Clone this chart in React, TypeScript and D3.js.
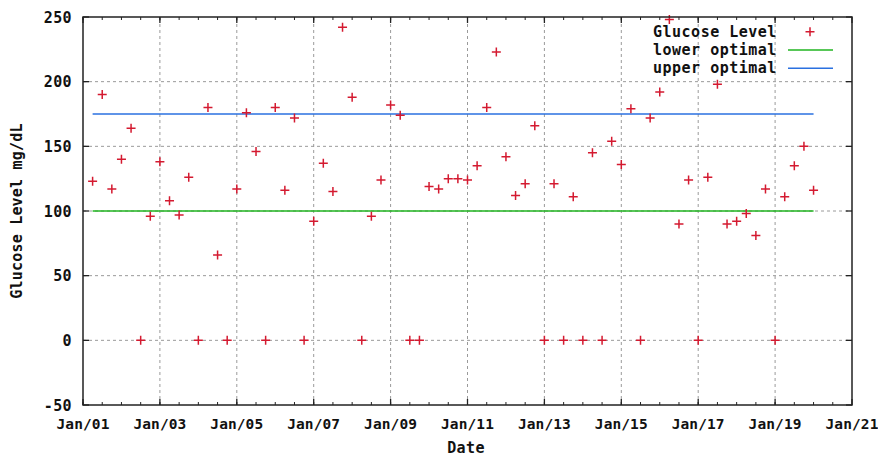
import React from "react";
import * as d3 from "d3";

// readings taken every 6 hours, from Jan/01 06:00 to Jan/20 00:00
const firstReading = new Date(Date.UTC(2011, 0, 1, 6));
const lastReading = new Date(Date.UTC(2011, 0, 20, 0, 1));
const glucoseValues = [
  123, 190, 117, 140, 164, 0, 96, 138, 108, 97, 126, 0, 180, 66, 0, 117, 176, 146, 0, 180,
  116, 172, 0, 92, 137, 115, 242, 188, 0, 96, 124, 182, 174, 0, 0, 119, 117, 125, 125, 124,
  135, 180, 223, 142, 112, 121, 166, 0, 121, 0, 111, 0, 145, 0, 154, 136, 179, 0, 172, 192,
  248, 90, 124, 0, 126, 198, 90, 92, 98, 81, 117, 0, 111, 135, 150, 116,
];
const lowerOptimal = 100;
const upperOptimal = 175;
const yTicks = [-50, 0, 50, 100, 150, 200, 250];
const legendLabels = ["Glucose Level", "lower optimal", "upper optimal"];

const width = 878;
const height = 456;
const margin = { top: 17, right: 26, bottom: 51, left: 83 };
const font = "'DejaVu Sans Mono', monospace";

export default function App() {
  const times = d3.utcHour.every(6)!.range(firstReading, lastReading);
  const data = times.map((t, i) => ({ t, v: glucoseValues[i] }));

  const x = d3
    .scaleUtc()
    .domain([new Date(Date.UTC(2011, 0, 1)), new Date(Date.UTC(2011, 0, 21))])
    .range([margin.left, width - margin.right]);
  const y = d3.scaleLinear().domain([-50, 250]).range([height - margin.bottom, margin.top]);

  const x0 = margin.left, x1 = width - margin.right;
  const y0 = height - margin.bottom, y1 = margin.top;

  const majorX = d3.utcDay.every(2)!.range(x.domain()[0], new Date(Date.UTC(2011, 0, 21, 1)));
  const minorX = d3.utcHour.every(12)!.range(x.domain()[0], x.domain()[1]);
  const fmt = d3.utcFormat("%b/%d");

  const line = d3
    .line<{ t: Date; v: number }>()
    .x((d) => x(d.t))
    .y((d) => y(d.v));
  const lowerData = data.map((d) => ({ t: d.t, v: lowerOptimal }));
  const upperData = data.map((d) => ({ t: d.t, v: upperOptimal }));

  const red = "#d41a30";
  const green = "#20b420";
  const blue = "#2a70e0";
  const grid = "#9a9a9a";

  const plus = (cx: number, cy: number) =>
    `M${cx - 4.5},${cy}h9M${cx},${cy - 4.5}v9`;

  const legendX = 653;
  const legendY = [31.7, 50, 68.3];

  return (
    <div style={{ position: "absolute", left: 0, top: 0 }}>
      <svg width={width} height={height} style={{ display: "block", background: "#fff" }}>
        {/* grid */}
        {yTicks.slice(1, -1).map((v) => (
          <line key={"gy" + v} x1={x0} x2={x1} y1={y(v)} y2={y(v)} stroke={grid} strokeWidth={1} strokeDasharray="3,3" />
        ))}
        {majorX.slice(1, -1).map((d) => (
          <line key={"gx" + +d} x1={x(d)} x2={x(d)} y1={y0} y2={y1} stroke={grid} strokeWidth={1} strokeDasharray="3,3" />
        ))}

        {/* ticks */}
        {minorX.map((d) => (
          <g key={"mx" + +d}>
            <line x1={x(d)} x2={x(d)} y1={y0} y2={y0 - 3} stroke="#222" />
            <line x1={x(d)} x2={x(d)} y1={y1} y2={y1 + 3} stroke="#222" />
          </g>
        ))}
        {majorX.map((d) => (
          <g key={"tx" + +d}>
            <line x1={x(d)} x2={x(d)} y1={y0} y2={y0 - 6} stroke="#222" strokeWidth={1.3} />
            <line x1={x(d)} x2={x(d)} y1={y1} y2={y1 + 6} stroke="#222" strokeWidth={1.3} />
            <text x={x(d)} y={423.5} textAnchor="middle" dominantBaseline="central"
              fontFamily={font} fontWeight="bold" fontSize={14.5} letterSpacing={0.1} fill="#111">
              {fmt(d)}
            </text>
          </g>
        ))}
        {yTicks.map((v) => (
          <g key={"ty" + v}>
            <line x1={x0} x2={x0 + 6} y1={y(v)} y2={y(v)} stroke="#222" strokeWidth={1.3} />
            <line x1={x1} x2={x1 - 6} y1={y(v)} y2={y(v)} stroke="#222" strokeWidth={1.3} />
            <text x={72} y={y(v) + 0.5} textAnchor="end" dominantBaseline="central"
              fontFamily={font} fontWeight="bold" fontSize={15} letterSpacing={0.4} fill="#111">
              {v}
            </text>
          </g>
        ))}

        {/* optimal range lines */}
        <path d={line(lowerData) ?? ""} fill="none" stroke={green} strokeWidth={1.5} />
        <path d={line(upperData) ?? ""} fill="none" stroke={blue} strokeWidth={1.5} />

        {/* glucose readings */}
        {data.map((d, i) => (
          <path key={"p" + i} d={plus(x(d.t), y(d.v))} stroke={red} strokeWidth={1.5} fill="none" />
        ))}

        {/* frame */}
        <rect x={x0} y={y1} width={x1 - x0} height={y0 - y1} fill="none" stroke="#222" strokeWidth={1.5} />

        {/* axis titles */}
        <text x={466} y={447.5} textAnchor="middle" dominantBaseline="central"
          fontFamily={font} fontWeight="bold" fontSize={15} letterSpacing={0.4} fill="#111">
          Date
        </text>
        <text transform={`translate(17,${(y0 + y1) / 2}) rotate(-90)`} textAnchor="middle" dominantBaseline="central"
          fontFamily={font} fontWeight="bold" fontSize={15} letterSpacing={0.2} fill="#111">
          Glucose Level mg/dL
        </text>

        {/* legend */}
        {legendLabels.map((label, i) => (
          <text key={label} x={legendX} y={legendY[i]} dominantBaseline="central"
            fontFamily={font} fontWeight="bold" fontSize={15} letterSpacing={0.5} fill="#111">
            {label}
          </text>
        ))}
        <path d={plus(810, legendY[0])} stroke={red} strokeWidth={1.5} fill="none" />
        <line x1={788} x2={833} y1={legendY[1]} y2={legendY[1]} stroke={green} strokeWidth={1.5} />
        <line x1={788} x2={833} y1={legendY[2]} y2={legendY[2]} stroke={blue} strokeWidth={1.5} />
      </svg>
    </div>
  );
}
